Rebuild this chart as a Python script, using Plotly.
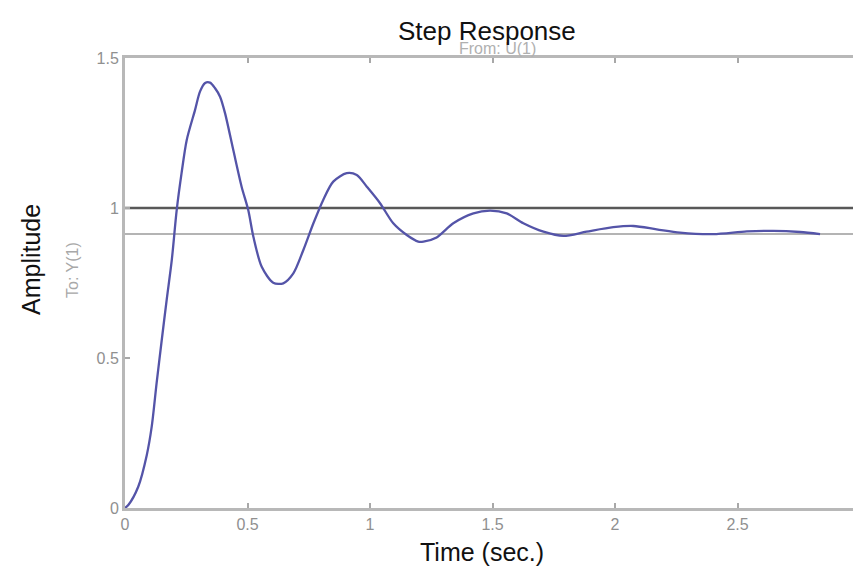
import plotly.graph_objects as go

# Step response samples
time_s = [0, 0.0135, 0.054, 0.089, 0.109, 0.129, 0.150, 0.170, 0.191, 0.211, 0.231, 0.252,
          0.286, 0.306, 0.327, 0.347, 0.367, 0.388, 0.408, 0.442, 0.476, 0.503, 0.524, 0.558,
          0.605, 0.646, 0.687, 0.728, 0.769, 0.809, 0.850, 0.905, 0.946, 0.987, 1.041, 1.095,
          1.150, 1.197, 1.218, 1.272, 1.340, 1.422, 1.490, 1.558, 1.626, 1.708, 1.789, 1.884,
          1.993, 2.075, 2.170, 2.265, 2.401, 2.538, 2.646, 2.755, 2.837]
amplitude = [0, 0.010, 0.071, 0.177, 0.271, 0.416, 0.560, 0.693, 0.827, 0.993, 1.117, 1.227,
             1.327, 1.388, 1.417, 1.418, 1.400, 1.371, 1.317, 1.193, 1.071, 0.993, 0.904, 0.804,
             0.751, 0.749, 0.782, 0.860, 0.949, 1.027, 1.088, 1.116, 1.110, 1.071, 1.016, 0.949,
             0.910, 0.888, 0.888, 0.902, 0.949, 0.982, 0.991, 0.982, 0.949, 0.921, 0.907, 0.921,
             0.936, 0.940, 0.929, 0.918, 0.913, 0.922, 0.924, 0.920, 0.913]

ref_x = [0, 3]
ref_level = [1.0, 1.0]
steady_level = [0.913, 0.913]

x_ticks = [0, 0.5, 1, 1.5, 2, 2.5, 3]
x_tick_labels = ["0", "0.5", "1", "1.5", "2", "2.5", "3"]
y_ticks = [0, 0.5, 1, 1.5]
y_tick_labels = ["0", "0.5", "1", "1.5"]

FONT = "Arial, Liberation Sans, sans-serif"

fig = go.Figure()
fig.add_trace(go.Scatter(x=ref_x, y=steady_level, mode="lines",
                         line=dict(color="#b4b4b4", width=2), hoverinfo="skip"))
fig.add_trace(go.Scatter(x=ref_x, y=ref_level, mode="lines",
                         line=dict(color="#585858", width=2.5), hoverinfo="skip"))
fig.add_trace(go.Scatter(x=time_s, y=amplitude, mode="lines",
                         line=dict(color="#5454a8", width=2.3, shape="spline", smoothing=0.8)))

axis_common = dict(showgrid=False, zeroline=False, showline=True, linecolor="#b8b8b8",
                   linewidth=3, mirror="ticks", ticks="inside", ticklen=5, tickcolor="#a8a8a8",
                   tickwidth=1.5, automargin=False, ticklabeloverflow="allow",
                   tickfont=dict(family=FONT, size=16, color="#909090"))

# the page body adds an 8px offset, so the figure is laid out in shifted pixels
OFF = 8
W, H = 861 - OFF, 573 - OFF
L, R, T, B = 125 - OFF, 1, 58 - OFF, 65

fig.update_layout(
    width=W, height=H,
    margin=dict(l=L, r=R, t=T, b=B),
    paper_bgcolor="white", plot_bgcolor="white",
    showlegend=False,
    xaxis=dict(range=[0, 3], tickvals=x_ticks, ticktext=x_tick_labels, **axis_common),
    yaxis=dict(range=[0, 1.5], tickvals=y_ticks, ticktext=y_tick_labels, **axis_common),
)

# annotations placed by target-picture pixel position, converted to paper coordinates
pw, ph = W - L - R, H - T - B
def px_ann(text, x, y, size, color, angle=0):
    x -= OFF
    y -= OFF
    return dict(text=text, xref="paper", yref="paper",
                x=(x - L) / pw, y=(H - B - y) / ph, showarrow=False,
                xanchor="center", yanchor="middle", textangle=angle,
                font=dict(family=FONT, size=size, color=color))

fig.update_layout(annotations=[
    px_ann("From: U(1)", 497, 48, 16, "#b0b0b0"),
    px_ann("Step Response", 487, 31, 26, "#111111"),
    px_ann("Time (sec.)", 482, 552, 25, "#111111"),
    px_ann("Amplitude", 31, 260, 25, "#111111", -90),
    px_ann("To: Y(1)", 72, 270, 16, "#a8a8a8", -90),
])

fig.write_html("out.html")
